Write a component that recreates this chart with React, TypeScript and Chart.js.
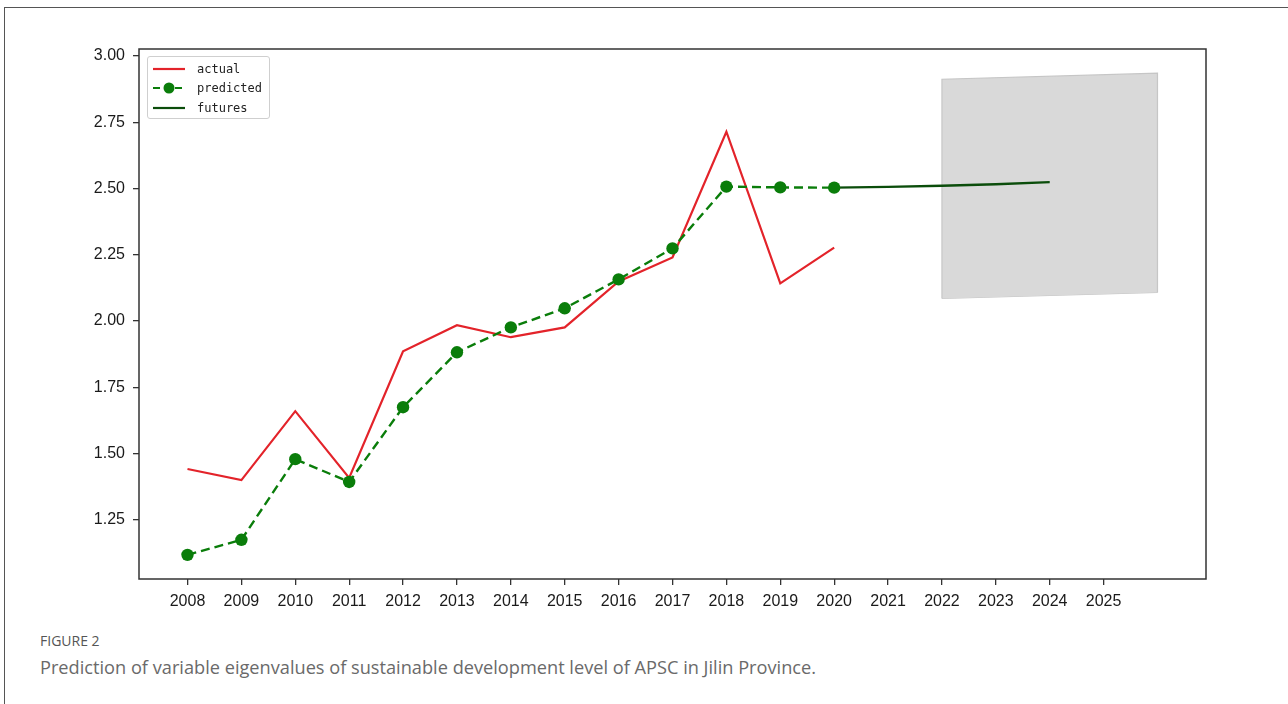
import React, { useEffect, useRef } from 'react';
import { Chart, registerables } from 'chart.js';

Chart.register(...registerables);

const years = [2008, 2009, 2010, 2011, 2012, 2013, 2014, 2015, 2016, 2017, 2018, 2019, 2020];
const actual = [1.442, 1.400, 1.660, 1.408, 1.886, 1.984, 1.939, 1.976, 2.149, 2.240, 2.714, 2.142, 2.277];
const predicted = [1.118, 1.175, 1.479, 1.393, 1.675, 1.882, 1.976, 2.048, 2.157, 2.274, 2.507, 2.504, 2.503];
const futureYears = [2020, 2021, 2022, 2023, 2024];
const futures = [2.503, 2.506, 2.510, 2.516, 2.524];
const bandYears = [2022, 2026];
const bandUpper = [2.912, 2.935];
const bandLower = [2.085, 2.108];
const xTicks = [2008, 2009, 2010, 2011, 2012, 2013, 2014, 2015, 2016, 2017, 2018, 2019, 2020, 2021, 2022, 2023, 2024, 2025];
const yTicks = [1.25, 1.5, 1.75, 2.0, 2.25, 2.5, 2.75, 3.0];

const legendItems = [
  { label: 'actual', color: '#e3232a', dash: '', marker: false },
  { label: 'predicted', color: '#0a7d0a', dash: '7 4', marker: true },
  { label: 'futures', color: '#0b4d0b', dash: '', marker: false },
];

const framePlugin = {
  id: 'frame',
  afterDraw(chart: any) {
    const { ctx, chartArea } = chart;
    ctx.save();
    ctx.strokeStyle = '#333';
    ctx.lineWidth = 1.5;
    ctx.strokeRect(chartArea.left, chartArea.top, chartArea.right - chartArea.left, chartArea.bottom - chartArea.top);
    ctx.restore();
  },
};

export default function App() {
  const ref = useRef<HTMLCanvasElement | null>(null);

  useEffect(() => {
    if (!ref.current) return;
    const chart = new Chart(ref.current, {
      type: 'line',
      data: {
        datasets: [
          {
            label: 'bandUpper',
            data: [
              { x: bandYears[0], y: bandLower[0] },
              { x: bandYears[0], y: bandUpper[0] },
              { x: bandYears[1], y: bandUpper[1] },
              { x: bandYears[1], y: bandLower[1] },
            ],
            borderColor: '#c6c6c6',
            borderWidth: 1.2,
            backgroundColor: '#d9d9d9',
            fill: '+1',
            pointRadius: 0,
            order: 10,
          },
          {
            label: 'bandLower',
            data: bandYears.map((x, i) => ({ x, y: bandLower[i] })),
            borderColor: '#c6c6c6',
            borderWidth: 1.2,
            backgroundColor: 'transparent',
            fill: false,
            pointRadius: 0,
            order: 11,
          },
          {
            label: 'actual',
            data: years.map((x, i) => ({ x, y: actual[i] })),
            borderColor: '#e3232a',
            borderWidth: 2.2,
            pointRadius: 0,
            fill: false,
            order: 3,
          },
          {
            label: 'futures',
            data: futureYears.map((x, i) => ({ x, y: futures[i] })),
            borderColor: '#0b4d0b',
            borderWidth: 2.4,
            pointRadius: 0,
            fill: false,
            order: 2,
          },
          {
            label: 'predicted',
            data: years.map((x, i) => ({ x, y: predicted[i] })),
            borderColor: '#0a7d0a',
            borderWidth: 2.4,
            borderDash: [9, 5],
            pointRadius: 6.2,
            pointBackgroundColor: '#0a7d0a',
            pointBorderColor: '#0a7d0a',
            pointBorderWidth: 0,
            fill: false,
            order: 1,
          },
        ],
      },
      options: {
        animation: false,
        responsive: false,
        maintainAspectRatio: false,
        events: [],
        layout: { padding: { top: 49, right: 82, left: 0, bottom: 0 } },
        plugins: {
          legend: { display: false },
          tooltip: { enabled: false },
        },
        scales: {
          x: {
            type: 'linear',
            min: 2007.1,
            max: 2026.9,
            afterBuildTicks: (scale: any) => {
              scale.ticks = xTicks.map((v) => ({ value: v }));
            },
            afterFit: (scale: any) => {
              scale.height = 51;
            },
            border: { display: false },
            grid: { display: true, drawOnChartArea: false, drawTicks: true, tickLength: 6, color: '#333', lineWidth: 1.3 },
            ticks: {
              autoSkip: false,
              maxRotation: 0,
              padding: 7,
              color: '#1a1a1a',
              font: { family: "'Liberation Sans', Arial, sans-serif", size: 16 },
              callback: (v: any) => String(v),
            },
          },
          y: {
            type: 'linear',
            min: 1.027,
            max: 3.026,
            afterBuildTicks: (scale: any) => {
              scale.ticks = yTicks.map((v) => ({ value: v }));
            },
            afterFit: (scale: any) => {
              scale.width = 139;
            },
            border: { display: false },
            grid: { display: true, drawOnChartArea: false, drawTicks: true, tickLength: 6, color: '#333', lineWidth: 1.3 },
            ticks: {
              padding: 8,
              color: '#1a1a1a',
              font: { family: "'Liberation Sans', Arial, sans-serif", size: 16 },
              callback: (v: any) => Number(v).toFixed(2),
            },
          },
        },
      },
      plugins: [framePlugin],
    });
    return () => chart.destroy();
  }, []);

  return (
    <div style={{ position: 'fixed', left: 0, top: 0, width: 1288, height: 704, background: '#fff', overflow: 'hidden' }}>
      <div style={{ position: 'absolute', left: 4, top: 7, width: 1284, height: 697, borderTop: '1.5px solid #555', borderLeft: '1.5px solid #555' }} />
      <canvas ref={ref} width={1288} height={630} style={{ position: 'absolute', left: 0, top: 0, width: 1288, height: 630 }} />
      <div
        style={{
          position: 'absolute',
          left: 147,
          top: 56,
          width: 123,
          height: 63,
          boxSizing: 'border-box',
          border: '1px solid #cfcfcf',
          borderRadius: 3,
          background: 'rgba(255,255,255,0.85)',
          paddingTop: 2,
        }}
      >
        {legendItems.map((it) => (
          <div key={it.label} style={{ display: 'flex', alignItems: 'center', height: 19.5 }}>
            <svg width={44} height={16} style={{ display: 'block' }}>
              <line x1={5} y1={8} x2={37} y2={8} stroke={it.color} strokeWidth={2.2} strokeDasharray={it.dash || undefined} />
              {it.marker ? <circle cx={21} cy={8} r={5.5} fill={it.color} /> : null}
            </svg>
            <span style={{ fontFamily: "'DejaVu Sans Mono', monospace", fontSize: 12, color: '#222', marginLeft: 5, lineHeight: '16px' }}>
              {it.label}
            </span>
          </div>
        ))}
      </div>
      <div style={{ position: 'absolute', left: 40, top: 631, fontFamily: "'Open Sans', Lato, sans-serif", fontSize: 14, color: '#555' }}>
        FIGURE 2
      </div>
      <div style={{ position: 'absolute', left: 40, top: 655, fontFamily: "'Open Sans', Lato, sans-serif", fontSize: 18.2, color: '#6a6a6a', whiteSpace: 'nowrap' }}>
        Prediction of variable eigenvalues of sustainable development level of APSC in Jilin Province.
      </div>
    </div>
  );
}
